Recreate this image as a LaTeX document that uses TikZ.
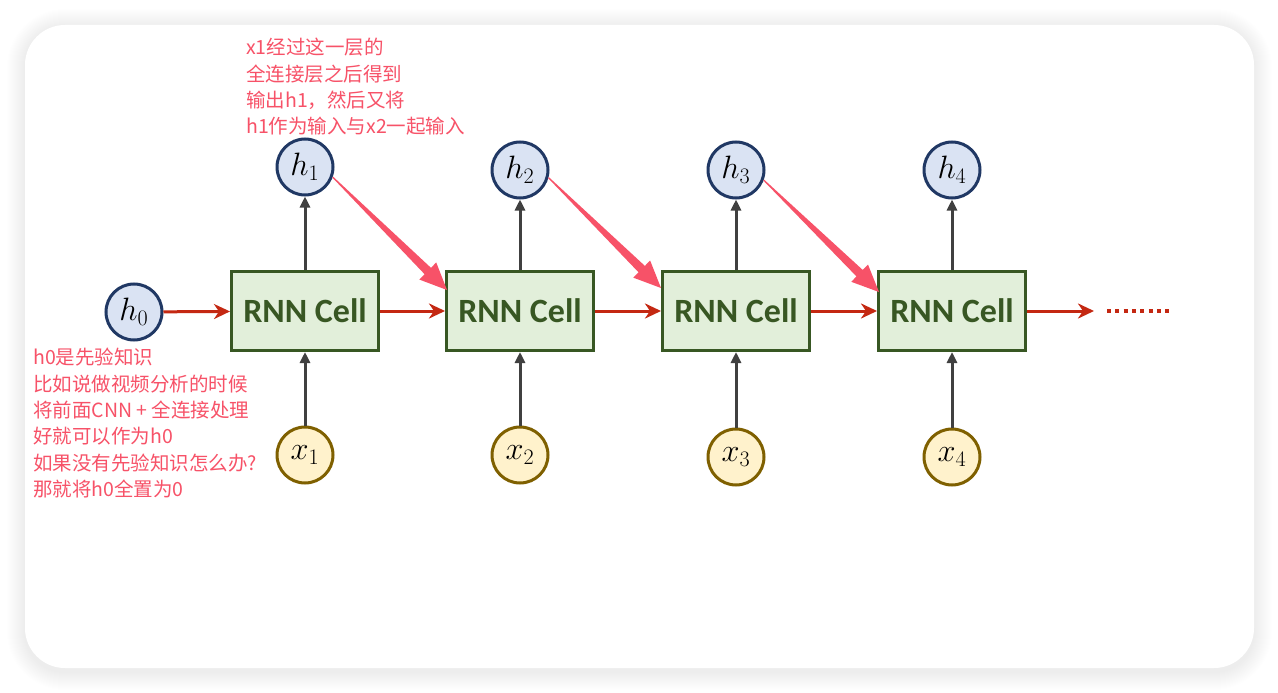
\RequirePackage{fix-cm}
\documentclass[tikz,border=0pt]{standalone}
\usepackage{fontspec}
\newfontfamily\cellfont{Carlito}
\newfontfamily\cjk{Noto Sans CJK SC}
\usetikzlibrary{arrows.meta,calc}
\DeclareMathSizes{24.88}{24.88}{17}{14}

\definecolor{cellfill}{RGB}{226,239,218}
\definecolor{celledge}{RGB}{56,87,35}
\definecolor{hfill}{RGB}{218,227,243}
\definecolor{hedge}{RGB}{32,56,100}
\definecolor{xfill}{RGB}{255,242,204}
\definecolor{xedge}{RGB}{127,96,0}
\definecolor{flowred}{RGB}{196,40,18}
\definecolor{stemgray}{RGB}{64,64,64}
\definecolor{notepink}{RGB}{247,82,104}

% tapered highlight arrow from #1 to #2
\newcommand\taperarrow[2]{%
  \path ($(#2)!27pt!(#1)$) coordinate (tb);
  \fill[notepink] ($(#1)!0.6pt!90:(#2)$) -- ($(tb)!4.5pt!90:(#2)$)
    -- ($(tb)!12pt!90:(#2)$) -- (#2) -- ($(tb)!12pt!-90:(#2)$)
    -- ($(tb)!4.5pt!-90:(#2)$) -- ($(#1)!0.6pt!-90:(#2)$) -- cycle;
}
% state label: italic letter with subscript index
\newcommand\statelabel[2]{\scalebox{1.3}{$#1_{#2}$}}

\begin{document}
\begin{tikzpicture}[x=1pt,y=-1pt,
  cell/.style={draw=celledge, fill=cellfill, line width=3pt,
    minimum width=147pt, minimum height=79pt, inner sep=0pt,
    text=celledge, font=\cellfont\bfseries\fontsize{34}{34}\selectfont},
  hstate/.style={circle, draw=hedge, fill=hfill, line width=3pt,
    minimum size=56pt, inner sep=0pt, font=\fontsize{24.88}{26}\selectfont},
  xin/.style={circle, draw=xedge, fill=xfill, line width=3pt,
    minimum size=56pt, inner sep=0pt, font=\fontsize{24.88}{26}\selectfont},
  flow/.style={draw=flowred, line width=3pt,
    -{Stealth[length=16pt,width=15pt,inset=5pt]}},
  stem/.style={draw=stemgray, line width=3pt,
    -{Triangle[length=11pt,width=10pt]}},
  note/.style={text=notepink, align=left, inner sep=0pt,
    font=\cjk\fontsize{19.5}{26.4}\selectfont},
]
\useasboundingbox (0,0) rectangle (1278,693);

% card with soft shadow
\foreach \i in {1,...,18}
  \fill[black, opacity=0.004, rounded corners={40+\i}]
    (25-\i,27-\i) rectangle (1254+\i,672+\i);
\fill[white, rounded corners=40] (25,25) rectangle (1254,668);

% cells
\node[cell] (c1) at (305,311) {RNN Cell};
\node[cell] (c2) at (520,311) {RNN Cell};
\node[cell] (c3) at (736,311) {RNN Cell};
\node[cell] (c4) at (952,311) {RNN Cell};

% hidden states
\node[hstate] (h0) at (134,312) {\statelabel{h}{0}};
\node[hstate] (h1) at (305,167) {\statelabel{h}{1}};
\node[hstate] (h2) at (520,170) {\statelabel{h}{2}};
\node[hstate] (h3) at (736,170) {\statelabel{h}{3}};
\node[hstate] (h4) at (952,170) {\statelabel{h}{4}};

% inputs
\node[xin] (x1) at (305,455) {\statelabel{x}{1}};
\node[xin] (x2) at (520,455) {\statelabel{x}{2}};
\node[xin] (x3) at (736,457) {\statelabel{x}{3}};
\node[xin] (x4) at (952,457) {\statelabel{x}{4}};

% recurrent flow
\draw[flow] (h0) -- (c1);
\draw[flow] (c1) -- (c2);
\draw[flow] (c2) -- (c3);
\draw[flow] (c3) -- (c4);
\coordinate (tail) at (1094,311);
\draw[flow] (c4) -- (tail);
\coordinate (d1) at (1107,311);
\coordinate (d2) at (1172,311);
\draw[flowred, line width=4pt, dash pattern=on 4pt off 4.3pt] (d1) -- (d2);

% inputs and outputs
\foreach \k in {1,2,3,4} {
  \draw[stem] (x\k) -- (c\k);
  \draw[stem] (c\k) -- (h\k);
}

% highlight arrows
\taperarrow{h1.-20}{$(c2.north west)+(2,20)$}
\taperarrow{h2.-15}{$(c3.north west)+(0,18)$}
\taperarrow{h3.-20}{$(c4.north west)+(2,22)$}

% notes
\node[note, anchor=north west] (n1) at (246,38)
  {x1经过这一层的\\全连接层之后得到\\输出h1，然后又将\\h1作为输入与x2一起输入};
\node[note, anchor=north west] (n2) at (33,348)
  {h0是先验知识\\比如说做视频分析的时候\\将前面CNN + 全连接处理\\好就可以作为h0\\如果没有先验知识怎么办?\\那就将h0全置为0};
\end{tikzpicture}
\end{document}
